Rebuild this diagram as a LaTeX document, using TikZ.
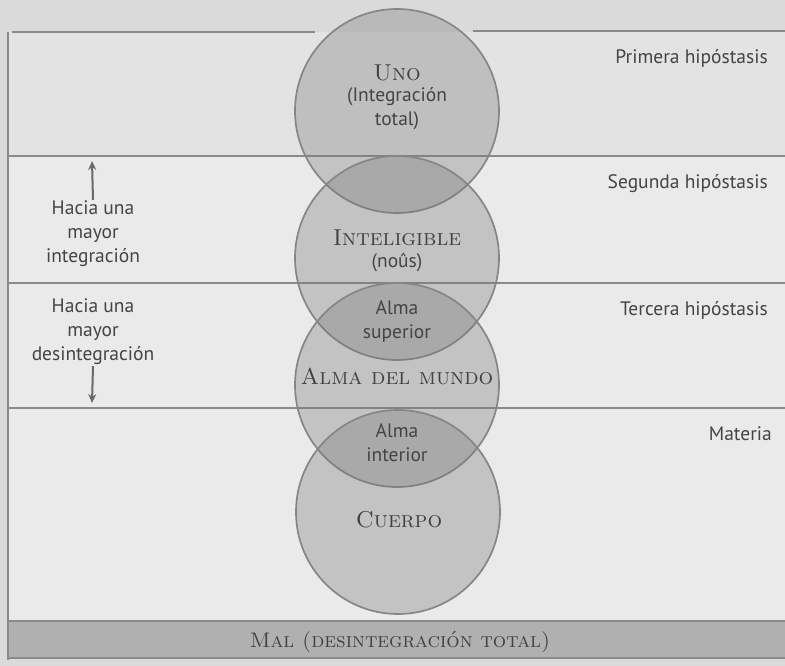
\documentclass[tikz,border=0pt]{standalone}
\usepackage{fontspec}
\setsansfont{PT Sans}
\usepackage{tikz}
\usetikzlibrary{arrows.meta}
\definecolor{ink}{HTML}{444444}
\definecolor{paper}{HTML}{DADADA}
\definecolor{band}{HTML}{EAEAEA}
\definecolor{bandtop}{HTML}{E3E3E3}
\definecolor{rulegray}{HTML}{8A8A8A}
\definecolor{ballgray}{HTML}{767676}
\definecolor{rimgray}{HTML}{868686}
\definecolor{bargray}{HTML}{B0B0B0}
\tikzset{
    every node/.style={text=ink, align=center, inner sep=1pt,
    	font=\sffamily\fontsize{19.5}{24}\selectfont}
}
\tikzset{
    sphere/.style={circle, draw=rimgray, line width=1.7pt, fill=ballgray,
    	fill opacity=0.33, text opacity=1, minimum size=204pt, inner sep=0pt},
    heading/.style={text=black!75,
    	font=\rmfamily\addfontfeatures{FakeBold=0.6}\fontsize{23}{26}\selectfont},
    hypo/.style={anchor=east},
    rule/.style={draw=rulegray, line width=1.3pt},
    pointer/.style={draw=ink!80, line width=2pt, -{Stealth[length=9pt,width=8pt]}}
}

\begin{document}
\begin{tikzpicture}[x=1pt,y=-1pt]
	\useasboundingbox (0,0) rectangle (785,666);
	\fill[paper] (0,0) rectangle (785,666);
	\fill[band] (8,32) rectangle (785,622);
	\fill[bandtop] (8,32) rectangle (785,156);
	
	\draw[rule] (12,32) -- (315,32); \draw[rule] (473,31) -- (785,31);
	\draw[rule] (8,156) -- (785,156); \draw[rule] (8,283) -- (785,283);
	\draw[rule] (8,408) -- (785,408);
	\fill[bargray] (9,622) rectangle (785,658);
	\draw[rule] (9,621) -- (785,621); \draw[rule] (9,658) -- (785,658);
	\draw[rule, line width=2.6pt] (8,32) -- (8,660);
	
	\node (mal) [heading, font=\fontsize{21}{24}\selectfont]
		at (400,642) {\textsc{Mal (desintegración total)}};
	
	\node (uno) [sphere] at (397,111) {};
	\node (intel) [sphere] at (397,258) {};
	\node (alma) [sphere] at (397,385) {};
	\node (cuerpo) [sphere] at (398,512) {};
	
	\node (unoT) [heading] at (397,73) {\textsc{Uno}};
	\node (unoS) at (397,109) {(Integración\\total)};
	\node (intelT) [heading] at (397,238) {\textsc{Inteligible}};
	\node (intelS) at (397,263) {(noûs)};
	\node (almaS) at (397,322) {Alma\\superior};
	\node (almaT) [heading] at (397,376) {\textsc{Alma del mundo}};
	\node (almaI) at (397,443) {Alma\\interior};
	\node (cuerpoT) [heading] at (399,520) {\textsc{Cuerpo}};
	
	\node (h1) [hypo] at (769,58) {Primera hipóstasis};
	\node (h2) [hypo] at (769,184) {Segunda hipóstasis};
	\node (h3) [hypo] at (769,310) {Tercera hipóstasis};
	\node (h4) [hypo] at (773,434) {Materia};
	
	\node (up) at (93,234) {Hacia una\\mayor\\integración};
	\node (down) at (93,332) {Hacia una\\mayor\\desintegración};
	\coordinate (upTip) at (92,161);
	\coordinate (downTip) at (92,403);
	\draw[pointer] (up.north) -- (upTip);
	\draw[pointer] (down.south) -- (downTip);
\end{tikzpicture}
\end{document}
